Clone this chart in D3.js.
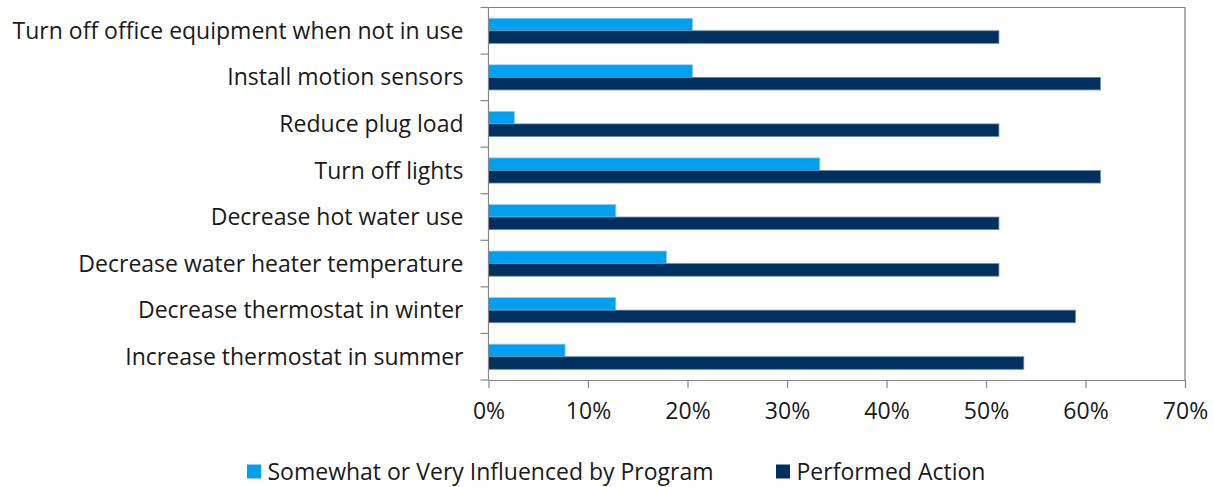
<!DOCTYPE html>
<html>
<head>
<meta charset="utf-8">
<script src="https://cdn.jsdelivr.net/npm/d3@7"></script>
<style>
  body { margin: 0; background: #fff; }
  text { font-family: "Open Sans", "Liberation Sans", sans-serif; fill: #1a1a1a; }
</style>
</head>
<body>
<div id="chart"></div>
<script>
let categories = [
  "Turn off office equipment when not in use",
  "Install motion sensors",
  "Reduce plug load",
  "Turn off lights",
  "Decrease hot water use",
  "Decrease water heater temperature",
  "Decrease thermostat in winter",
  "Increase thermostat in summer"
];
let influenced = [0.205, 0.205, 0.026, 0.333, 0.128, 0.179, 0.128, 0.077];
let performed  = [0.513, 0.615, 0.513, 0.615, 0.513, 0.513, 0.590, 0.538];
let seriesNames = ["Somewhat or Very Influenced by Program", "Performed Action"];
let seriesColors = ["#00a0f0", "#003060"];
let xTicks = [0, 0.1, 0.2, 0.3, 0.4, 0.5, 0.6, 0.7];

let width = 1214, height = 487;
let margin = {left: 488.5, top: 7.5, right: 29, bottom: 107};

let svg = d3.select("#chart").append("svg")
    .attr("width", width)
    .attr("height", height);

let x = d3.scaleLinear()
    .domain([0, 0.7])
    .range([margin.left, width - margin.right]);

let y = d3.scaleBand()
    .domain(categories)
    .range([margin.top, height - margin.bottom]);

let sub = d3.scaleBand()
    .domain([0, 1])
    .range([0, y.bandwidth()])
    .paddingOuter(0.85)
    .paddingInner(0);

// frame (top and right)
svg.append("path")
    .attr("d", `M${x(0)},${margin.top}H${x(0.7)}V${height - margin.bottom}`)
    .attr("fill", "none")
    .attr("stroke", "#7f7f7f")
    .attr("stroke-width", 1.2);

// bars
let rows = svg.append("g").selectAll("g")
    .data(categories)
    .enter()
    .append("g")
    .attr("transform", function(d) { return `translate(0, ${y(d)})`; });

rows.append("rect")
    .attr("x", x(0))
    .attr("y", sub(0))
    .attr("width", function(d, i) { return x(influenced[i]) - x(0); })
    .attr("height", sub.bandwidth())
    .attr("fill", seriesColors[0])
    .attr("stroke", "#8fd4f8")
    .attr("stroke-width", 0.8);

rows.append("rect")
    .attr("x", x(0))
    .attr("y", sub(1))
    .attr("width", function(d, i) { return x(performed[i]) - x(0); })
    .attr("height", sub.bandwidth())
    .attr("fill", seriesColors[1])
    .attr("stroke", "#6a8cb0")
    .attr("stroke-width", 0.8);

// x axis
let xAxis = svg.append("g")
    .attr("transform", `translate(0, ${height - margin.bottom})`)
    .call(d3.axisBottom(x).tickValues(xTicks).tickFormat(d3.format(".0%")).tickSize(8).tickSizeOuter(0).tickPadding(15));
xAxis.select(".domain").attr("stroke", "#868686").attr("stroke-width", 1.2);
xAxis.selectAll(".tick line").attr("stroke", "#868686").attr("stroke-width", 1.2);
xAxis.selectAll("text")
    .style("font-family", '"Open Sans", sans-serif')
    .style("font-size", "23px")
    .attr("fill", "#1a1a1a");

// y axis: ticks between categories
let yAxis = svg.append("g")
    .attr("transform", `translate(${x(0)}, 0)`);
yAxis.append("line")
    .attr("x1", 0).attr("x2", 0)
    .attr("y1", margin.top).attr("y2", height - margin.bottom)
    .attr("stroke", "#868686").attr("stroke-width", 1.2);
let bounds = categories.map(function(d) { return y(d); }).concat([height - margin.bottom]);
yAxis.selectAll(".ytick")
    .data(bounds)
    .enter()
    .append("line")
    .attr("x1", -8).attr("x2", 0)
    .attr("y1", function(d) { return d; }).attr("y2", function(d) { return d; })
    .attr("stroke", "#868686").attr("stroke-width", 1.2);
yAxis.selectAll(".ylab")
    .data(categories)
    .enter()
    .append("text")
    .attr("x", -25)
    .attr("y", function(d) { return y(d) + y.bandwidth() / 2; })
    .attr("dy", "0.35em")
    .style("text-anchor", "end")
    .style("font-size", "23px")
    .text(function(d) { return d; });

// legend
let legendX = [247, 776];
let legend = svg.append("g").selectAll("g")
    .data(seriesNames)
    .enter()
    .append("g")
    .attr("transform", function(d, i) { return `translate(${legendX[i]}, 464.5)`; });
legend.append("rect")
    .attr("width", 14).attr("height", 14)
    .attr("fill", function(d, i) { return seriesColors[i]; });
legend.append("text")
    .attr("x", 20.5)
    .attr("y", 7)
    .attr("dy", "0.35em")
    .style("font-size", "23px")
    .text(function(d) { return d; });
</script>
</body>
</html>
